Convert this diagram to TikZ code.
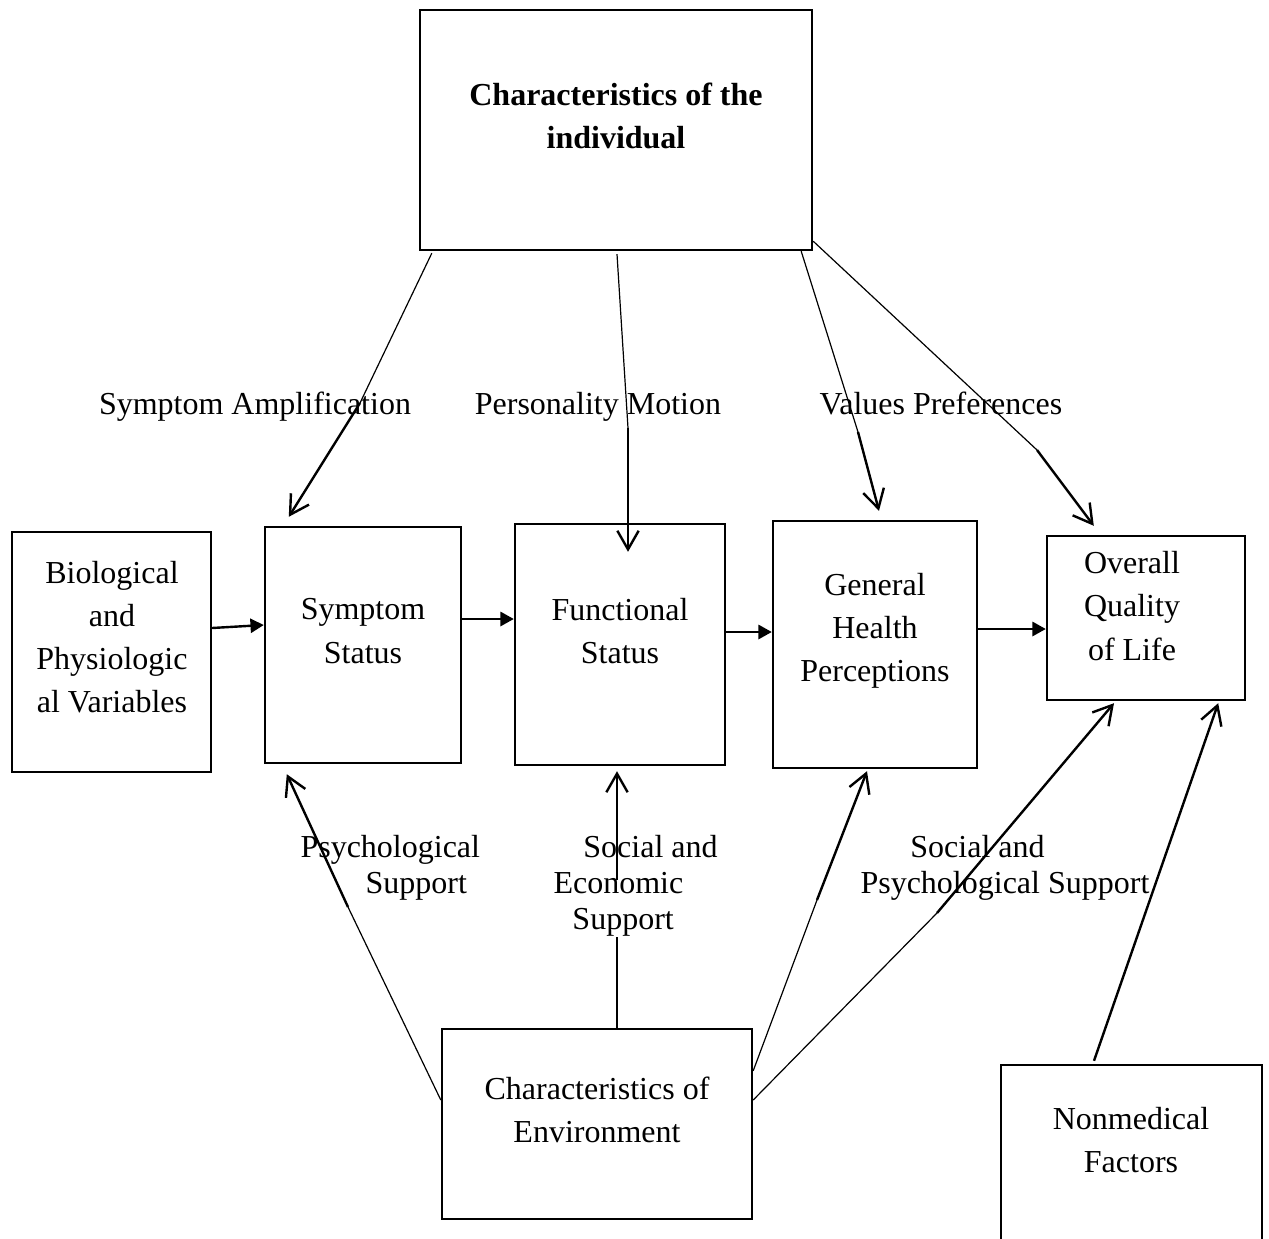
\documentclass[tikz,border=0pt]{standalone}
\usepackage{fontspec}
\setmainfont{Liberation Serif}
\usetikzlibrary{arrows.meta,calc}

\tikzset{
  box/.style={draw,line width=0.9pt,inner sep=0pt},
  boxtext/.style={align=center,inner sep=0pt,font=\fontsize{12pt}{16.2pt}\selectfont},
  lbltext/.style={align=left,inner sep=0pt,anchor=west,font=\fontsize{12pt}{13.5pt}\selectfont},
  thinline/.style={line width=0.45pt},
  openarr/.style={line width=0.9pt,-{Straight Barb[length=7pt,width=8pt]}},
  flowarr/.style={line width=0.9pt,-{Triangle[length=5pt,width=5.3pt]}}
}

\begin{document}
\begin{tikzpicture}[x=0.375pt,y=0.375pt,yscale=-1,xscale=1]
\useasboundingbox (0,0) rectangle (1269,1239);

%Shape: Rectangle [id:ind]
\node [box,minimum width=392*0.375pt,minimum height=240*0.375pt] (ind) at (616,130) {};
%Shape: Rectangle [id:bio]
\node [box,minimum width=199*0.375pt,minimum height=240*0.375pt] (bio) at (111.5,652) {};
%Shape: Rectangle [id:sym]
\node [box,minimum width=196*0.375pt,minimum height=236*0.375pt] (sym) at (363,645) {};
%Shape: Rectangle [id:fun]
\node [box,minimum width=210*0.375pt,minimum height=241*0.375pt] (fun) at (620,644.5) {};
%Shape: Rectangle [id:gen]
\node [box,minimum width=204*0.375pt,minimum height=247*0.375pt] (gen) at (875,644.5) {};
%Shape: Rectangle [id:ovr]
\node [box,minimum width=198*0.375pt,minimum height=164*0.375pt] (ovr) at (1146,618) {};
%Shape: Rectangle [id:env]
\node [box,minimum width=310*0.375pt,minimum height=190*0.375pt] (env) at (597,1124) {};
%Shape: Rectangle [id:non]
\node [box,minimum width=261*0.375pt,minimum height=195*0.375pt] (non) at (1131.5,1162.5) {};

% Text Node
\node [boxtext] (indt) at (616,116) {\bfseries Characteristics of the\\\bfseries individual};
% Text Node
\node [boxtext] (biot) at (112,637) {Biological\\and\\Physiologic\\al Variables};
% Text Node
\node [boxtext] (symt) at (363,631) {Symptom\\Status};
% Text Node
\node [boxtext] (funt) at (620,631) {Functional\\Status};
% Text Node
\node [boxtext] (gent) at (875,631) {General\\Health\\Perceptions};
% Text Node
\node [boxtext] (ovrt) at (1132,606) {Overall\\Quality\\of Life};
% Text Node
\node [boxtext] (envt) at (597,1110) {Characteristics of\\Environment};
% Text Node
\node [boxtext] (nont) at (1131,1140) {Nonmedical\\Factors};

% Text Node
\node [boxtext,anchor=base] (lblamp) at (255,414) {Symptom Amplification};
% Text Node
\node [boxtext,anchor=base] (lblper) at (598,414) {Personality Motion};
% Text Node
\node [boxtext,anchor=base] (lblval) at (941,414) {Values Preferences};
% Text Node
\node [lbltext] (lblpsy) at (300,868) {Psychological\\\hspace*{24.4pt}Support};
% Text Node
\node [lbltext] (lbleco) at (553,886) {\hspace*{11.2pt}Social and\\Economic\\\hspace*{7.1pt}Support};
% Text Node
\node [lbltext] (lblsps) at (860,868) {\hspace*{18.7pt}Social and\\Psychological Support};

% break points
\coordinate (brk1) at (360,403);
\coordinate (brk2) at (628,428);
\coordinate (brk3) at (858,432);
\coordinate (brk4) at (1037,450);
\coordinate (brk5) at (348,907);
\coordinate (brk6a) at (617,937);
\coordinate (brk6b) at (617,880);
\coordinate (brk7) at (817,900);
\coordinate (brk8) at (937,913);

%Straight Lines [id:ind-sym]
\draw [thinline] ($(ind.south west)+(13,2)$) -- (brk1);
\draw [openarr] (brk1) -- ($(sym.north west)+(25,-9)$);
%Straight Lines [id:ind-fun]
\draw [thinline] ($(ind.south)+(1,3)$) -- (brk2);
\draw [openarr] (brk2) -- ($(fun.north)+(8,29)$);
%Straight Lines [id:ind-gen]
\draw [thinline] ($(ind.south east)+(-12,0)$) -- (brk3);
\draw [openarr] (brk3) -- ($(gen.north)+(4,-9)$);
%Straight Lines [id:ind-ovr]
\draw [thinline] ($(ind.south east)+(0,-10)$) -- (brk4);
\draw [openarr] (brk4) -- ($(ovr.north west)+(48,-9)$);

%Straight Lines [id:bio-sym]
\draw [flowarr] ($(bio.east)+(0,-24)$) -- ($(sym.west)+(0,-20)$);
%Straight Lines [id:sym-fun]
\draw [flowarr] ($(sym.east)+(0,-26)$) -- ($(fun.west)+(0,-25.5)$);
%Straight Lines [id:fun-gen]
\draw [flowarr] ($(fun.east)+(0,-12.5)$) -- ($(gen.west)+(0,-12.5)$);
%Straight Lines [id:gen-ovr]
\draw [flowarr] ($(gen.east)+(0,-15.5)$) -- ($(ovr.west)+(0,11)$);

%Straight Lines [id:env-sym]
\draw [thinline] ($(env.west)+(0,-24)$) -- (brk5);
\draw [openarr] (brk5) -- ($(sym.south west)+(23,10)$);
%Straight Lines [id:env-fun]
\draw [thinline] ($(env.north)+(20,0)$) -- (brk6a);
\draw [openarr] (brk6b) -- ($(fun.south)+(-3,5)$);
%Straight Lines [id:env-gen]
\draw [thinline] ($(env.north east)+(0,43)$) -- (brk7);
\draw [openarr] (brk7) -- ($(gen.south)+(-8,2)$);
%Straight Lines [id:env-ovr]
\draw [thinline] ($(env.east)+(0,-24)$) -- (brk8);
\draw [openarr] (brk8) -- ($(ovr.south)+(-32,2)$);
%Straight Lines [id:non-ovr]
\draw [openarr] ($(non.north)+(-37.5,-3)$) -- ($(ovr.south east)+(-28,2)$);

\end{tikzpicture}
\end{document}
